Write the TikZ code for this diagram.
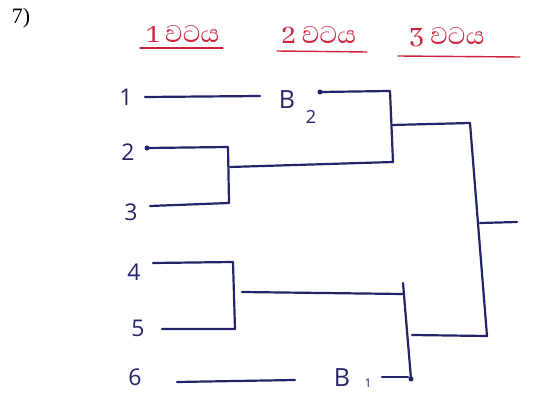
\documentclass[tikz,border=0pt]{standalone}
\usepackage{fontspec}
\setmainfont{Liberation Serif}
\newfontfamily\sinfont[Script=Sinhala]{Abhaya Libre}
\newfontfamily\handfont{Open Sans}
\definecolor{ink}{RGB}{35,35,105}
\definecolor{redink}{RGB}{205,35,60}
\begin{document}
\begin{tikzpicture}[x=1pt,y=-1pt,
  wire/.style={draw=ink,line width=2.2pt,line cap=round,line join=round},
  uline/.style={draw=redink,line width=1.4pt,line cap=round},
  head/.style={text=redink,font=\sinfont\fontsize{31}{31}\selectfont,inner sep=0pt},
  team/.style={text=ink,font=\handfont\fontsize{23}{23}\selectfont,inner sep=0pt},
  blabel/.style={text=ink,font=\handfont\fontsize{25}{25}\selectfont,inner sep=0pt},
  dotmark/.style={fill=ink,circle,inner sep=0pt,minimum size=5pt}]
\useasboundingbox (0,0) rectangle (557,398);
% question number
\node[font=\fontsize{22}{22}\selectfont,inner sep=0pt] (qn) at (21,18) {7)};
% headers
\node[head] (h1) at (183,34) {1 වටය};
\node[head] (h2) at (319,35) {2 වටය};
\node[head] (h3) at (447,37) {3 වටය};
\coordinate (u1a) at (140,48); \coordinate (u1b) at (223,48);
\coordinate (u2a) at (277,51); \coordinate (u2b) at (367,52);
\coordinate (u3a) at (398,56); \coordinate (u3b) at (520,57);
\draw[uline] (u1a) -- (u1b);
\draw[uline] (u2a) -- (u2b);
\draw[uline] (u3a) -- (u3b);
% team labels
\node[team] (t1) at (126,97) {1};
\node[team] (t2) at (128,152) {2};
\node[team] (t3) at (131,212) {3};
\node[team] (t4) at (134,272) {4};
\node[team] (t5) at (138,328) {5};
\node[team] (t6) at (135,377) {6};
% bye labels
\node[blabel] (b2) at (287,100) {B};
\node[team,font=\handfont\fontsize{18}{18}\selectfont] (b2s) at (311,117) {2};
\node[blabel] (b1) at (342,378) {B};
\node[team,font=\handfont\fontsize{12}{12}\selectfont] (b1s) at (368,383) {1};
% coordinates
\coordinate (l1a) at (145,97);  \coordinate (l1b) at (260,96);
\coordinate (d2) at (320,92);   \coordinate (r2t) at (390,91);
\coordinate (r2b) at (393,162);  \coordinate (m23) at (230,167);
\coordinate (r2m) at (392,125);  \coordinate (r3t) at (470,123);
\coordinate (r3b) at (487,336);  \coordinate (r3bl) at (412,335);
\coordinate (r3m) at (480,223);  \coordinate (win) at (517,222);
\coordinate (l2a) at (147,148); \coordinate (l2b) at (228,147);
\coordinate (l3a) at (150,206); \coordinate (l3b) at (229,203);
\coordinate (l4a) at (153,263); \coordinate (l4b) at (233,262);
\coordinate (l5a) at (162,329); \coordinate (l5b) at (235,329);
\coordinate (m45a) at (242,292); \coordinate (m45b) at (403,294);
\coordinate (v2t) at (403,283); \coordinate (v2b) at (411,379);
\coordinate (l6a) at (177,382); \coordinate (l6b) at (295,380);
\coordinate (b1a) at (382,377); \coordinate (b1b) at (408,377);
% round 1 lines
\draw[wire] (l1a) -- (l1b);
\draw[wire] (l2a) -- (l2b) -- (l3b) -- (l3a);
\draw[wire] (l4a) -- (l4b) -- (l5b) -- (l5a);
\draw[wire] (l6a) -- (l6b);
% round 2
\draw[wire] (d2) -- (r2t) -- (r2b) -- (m23);
\draw[wire] (m45a) -- (m45b);
\draw[wire] (v2t) -- (v2b);
\draw[wire] (b1a) -- (b1b);
% round 3
\draw[wire] (r2m) -- (r3t) -- (r3b) -- (r3bl);
\draw[wire] (r3m) -- (win);
% dots
\node[dotmark] (dt2) at (l2a) {};
\node[dotmark] (dtb2) at (d2) {};
\node[dotmark] (dtb1) at (v2b) {};
\end{tikzpicture}
\end{document}
